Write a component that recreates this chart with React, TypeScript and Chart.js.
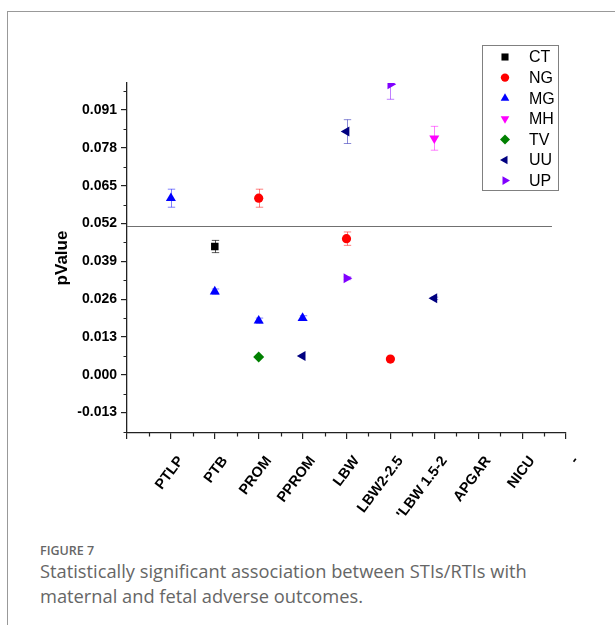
import React, { useEffect, useRef } from "react";
import { Chart, registerables } from "chart.js";

Chart.register(...registerables);

// ---- Data ----
const categoryLabels = ["", "PTLP", "PTB", "PROM", "PPROM", "LBW", "LBW2-2.5", "'LBW 1.5-2", "APGAR", "NICU", "-"];

const ctIdx = [2];
const ctVal = [0.0441];
const ctErr = [0.0021];

const ngIdx = [3, 5, 6];
const ngVal = [0.0607, 0.0468, 0.0054];
const ngErr = [0.0031, 0.0023, 0];

const mgIdx = [1, 2, 3, 4];
const mgVal = [0.0607, 0.0286, 0.0186, 0.0195];
const mgErr = [0.0031, 0.0009, 0.0009, 0.0008];

const mhIdx = [7];
const mhVal = [0.0813];
const mhErr = [0.0041];

const tvIdx = [3];
const tvVal = [0.0061];
const tvErr = [0];

const uuIdx = [4, 5, 7];
const uuVal = [0.0065, 0.0836, 0.0263];
const uuErr = [0, 0.0041, 0.0004];

const upIdx = [5, 6];
const upVal = [0.0332, 0.0999];
const upErr = [0.0005, 0.0052];

const thresholdValue = 0.0512;
const thresholdEndX = 9.68;

const yMin = -0.02;
const yMax = 0.1003;
const yStep = 0.013;

const seriesNames = ["CT", "NG", "MG", "MH", "TV", "UU", "UP"];

function pts(idx: number[], val: number[]) {
  return idx.map((x, i) => ({ x, y: val[i] }));
}

type SeriesStyle = { color: string; err: string; style: string; rot: number; r: number; lr: number };
const styles: SeriesStyle[] = [
  { color: "#000000", err: "rgba(0,0,0,0.65)", style: "rect", rot: 0, r: 5.3, lr: 5 },
  { color: "#ff0000", err: "rgba(255,0,0,0.5)", style: "circle", rot: 0, r: 4.6, lr: 4.2 },
  { color: "#0000ff", err: "rgba(0,0,255,0.5)", style: "triangle", rot: 0, r: 5.8, lr: 5 },
  { color: "#ff00ff", err: "rgba(255,0,255,0.5)", style: "triangle", rot: 180, r: 5.8, lr: 5 },
  { color: "#008000", err: "rgba(0,128,0,0.5)", style: "rectRot", rot: 0, r: 5.5, lr: 5 },
  { color: "#000080", err: "rgba(40,40,180,0.55)", style: "triangle", rot: 270, r: 5.8, lr: 5 },
  { color: "#8000ff", err: "rgba(128,0,255,0.5)", style: "triangle", rot: 90, r: 5.8, lr: 5 },
];

const seriesData = [
  { data: pts(ctIdx, ctVal), errors: ctErr },
  { data: pts(ngIdx, ngVal), errors: ngErr },
  { data: pts(mgIdx, mgVal), errors: mgErr },
  { data: pts(mhIdx, mhVal), errors: mhErr },
  { data: pts(tvIdx, tvVal), errors: tvErr },
  { data: pts(uuIdx, uuVal), errors: uuErr },
  { data: pts(upIdx, upVal), errors: upErr },
];

function drawMarker(ctx: CanvasRenderingContext2D, style: string, rotDeg: number, x: number, y: number, r: number, color: string) {
  ctx.save();
  ctx.fillStyle = color;
  ctx.translate(x, y);
  ctx.rotate((rotDeg * Math.PI) / 180);
  ctx.beginPath();
  if (style === "circle") {
    ctx.arc(0, 0, r, 0, Math.PI * 2);
  } else if (style === "rect") {
    const s = r * Math.SQRT1_2;
    ctx.rect(-s, -s, 2 * s, 2 * s);
  } else if (style === "rectRot") {
    ctx.moveTo(-r, 0);
    ctx.lineTo(0, -r);
    ctx.lineTo(r, 0);
    ctx.lineTo(0, r);
    ctx.closePath();
  } else {
    for (let k = 0; k < 3; k++) {
      const a = (k * 2 * Math.PI) / 3;
      const px = Math.sin(a) * r;
      const py = -Math.cos(a) * r;
      if (k === 0) ctx.moveTo(px, py);
      else ctx.lineTo(px, py);
    }
    ctx.closePath();
  }
  ctx.fill();
  ctx.restore();
}

const overlayPlugin = {
  id: "overlay",
  beforeDatasetsDraw(chart: any) {
    const { ctx, chartArea } = chart;
    const x = chart.scales.x;
    const y = chart.scales.y;
    ctx.save();
    // threshold line
    const ty = Math.round(y.getPixelForValue(thresholdValue)) + 0.5;
    ctx.strokeStyle = "#707070";
    ctx.lineWidth = 1.2;
    ctx.beginPath();
    ctx.moveTo(chartArea.left, ty);
    ctx.lineTo(x.getPixelForValue(thresholdEndX), ty);
    ctx.stroke();
    // error bars
    ctx.beginPath();
    ctx.rect(chartArea.left, chartArea.top, chartArea.right - chartArea.left, chartArea.bottom - chartArea.top);
    ctx.clip();
    ctx.lineWidth = 1;
    chart.data.datasets.forEach((ds: any, i: number) => {
      const errs: number[] = ds.errors || [];
      ds.data.forEach((p: any, j: number) => {
        const e = errs[j];
        if (!e) return;
        const px = Math.round(x.getPixelForValue(p.x)) + 0.5;
        const y1 = y.getPixelForValue(p.y + e);
        const y2 = y.getPixelForValue(p.y - e);
        ctx.strokeStyle = styles[i].err;
        ctx.beginPath();
        ctx.moveTo(px, y1);
        ctx.lineTo(px, y2);
        ctx.moveTo(px - 3.7, y1);
        ctx.lineTo(px + 3.7, y1);
        ctx.moveTo(px - 3.7, y2);
        ctx.lineTo(px + 3.7, y2);
        ctx.stroke();
      });
    });
    ctx.restore();
  },
  afterDraw(chart: any) {
    const { ctx, chartArea } = chart;
    const x = chart.scales.x;
    const y = chart.scales.y;
    ctx.save();
    ctx.strokeStyle = "#222";
    ctx.lineWidth = 1.2;
    ctx.beginPath();
    // minor y ticks
    const half = yStep / 2;
    for (let k = Math.ceil(yMin / half); k <= Math.floor(yMax / half); k++) {
      if (Math.abs(k) % 2 !== 1) continue;
      const py = Math.round(y.getPixelForValue(k * half)) + 0.5;
      ctx.moveTo(chartArea.left, py);
      ctx.lineTo(chartArea.left - 3.5, py);
    }
    // minor x ticks
    for (let k = 0; k < 10; k++) {
      const px = Math.round(x.getPixelForValue(k + 0.5)) + 0.5;
      ctx.moveTo(px, chartArea.bottom);
      ctx.lineTo(px, chartArea.bottom + 3.5);
    }
    ctx.stroke();

    // legend
    const bx = 482, by = 45, bw = 76, bh = 145;
    ctx.strokeStyle = "#808080";
    ctx.lineWidth = 1;
    ctx.strokeRect(bx + 0.5, by + 0.5, bw, bh);
    ctx.font = "16px 'Liberation Sans', Arial, sans-serif";
    ctx.textBaseline = "middle";
    ctx.textAlign = "left";
    seriesNames.forEach((name, i) => {
      const cy = 57 + i * 20.6;
      const s = styles[i];
      drawMarker(ctx, s.style, s.rot, 505, cy, s.lr, s.color);
      ctx.fillStyle = "#000";
      ctx.fillText(name, 529, cy + 1);
    });
    ctx.restore();
  },
};

export default function App() {
  const ref = useRef<HTMLCanvasElement>(null);
  useEffect(() => {
    document.body.style.overflow = "hidden";
    const canvas = ref.current!;
    const chart = new Chart(canvas, {
      type: "scatter",
      data: {
        datasets: seriesData.map((s, i) => ({
          label: seriesNames[i],
          data: s.data,
          errors: s.errors,
          pointStyle: styles[i].style,
          rotation: styles[i].rot,
          pointRadius: styles[i].r,
          pointHoverRadius: styles[i].r,
          backgroundColor: styles[i].color,
          borderColor: styles[i].color,
          borderWidth: 0,
          clip: 0,
        })) as any,
      },
      options: {
        responsive: false,
        animation: false,
        devicePixelRatio: 1,
        layout: { padding: { left: 0, top: 83, right: 49, bottom: 0 } },
        plugins: { legend: { display: false }, tooltip: { enabled: false } },
        scales: {
          x: {
            type: "linear",
            min: 0,
            max: 10,
            afterFit: (s: any) => {
              s.height = 87;
            },
            border: { display: true, color: "#222", width: 1.3 },
            grid: { drawOnChartArea: false, drawTicks: true, tickLength: 6, color: "#222", lineWidth: 1.2 },
            ticks: {
              stepSize: 1,
              autoSkip: false,
              minRotation: 53,
              maxRotation: 53,
              padding: 14,
              labelOffset: 10,
              color: "#000",
              font: { family: "'Liberation Sans', Arial, sans-serif", size: 14.5, weight: "bold" },
              callback: (v: any) => categoryLabels[Math.round(Number(v))] ?? "",
            },
          },
          y: {
            type: "linear",
            min: yMin,
            max: yMax,
            afterFit: (s: any) => {
              s.width = 127;
            },
            border: { display: true, color: "#222", width: 1.3 },
            grid: { drawOnChartArea: false, drawTicks: true, tickLength: 6, color: "#222", lineWidth: 1.2 },
            title: {
              display: true,
              text: "pValue",
              color: "#000",
              font: { family: "'Liberation Sans', Arial, sans-serif", size: 17, weight: "bold" },
              padding: { top: 52, bottom: 0 },
            },
            ticks: {
              stepSize: yStep,
              includeBounds: false,
              padding: 4,
              color: "#000",
              font: { family: "'Liberation Sans', Arial, sans-serif", size: 14, weight: "bold" },
              callback: (v: any) => Number(v).toFixed(3),
            },
          },
        },
      },
      plugins: [overlayPlugin],
    } as any);
    return () => chart.destroy();
  }, []);

  const captionFont = "'Open Sans', 'Noto Sans', sans-serif";
  return (
    <div>
      <div
        style={{
          position: "absolute",
          left: 7,
          top: 11,
          width: 608,
          height: 614,
          borderLeft: "1.5px solid #999",
          borderTop: "1.5px solid #999",
          boxSizing: "border-box",
        }}
      />
      <canvas
        ref={ref}
        width={615}
        height={520}
        style={{ position: "absolute", left: 0, top: 0, width: 615, height: 520, display: "block" }}
      />
      <div
        style={{
          position: "absolute",
          left: 40,
          top: 542,
          fontFamily: captionFont,
          fontSize: 12.5,
          fontWeight: 600,
          color: "#666",
          lineHeight: "18px",
          whiteSpace: "nowrap",
        }}
      >
        FIGURE 7
      </div>
      <div
        style={{
          position: "absolute",
          left: 40,
          top: 558,
          fontFamily: captionFont,
          fontSize: 18.3,
          color: "#666",
          lineHeight: "25px",
          whiteSpace: "nowrap",
        }}
      >
        Statistically significant association between STIs/RTIs with
        <br />
        maternal and fetal adverse outcomes.
      </div>
    </div>
  );
}
